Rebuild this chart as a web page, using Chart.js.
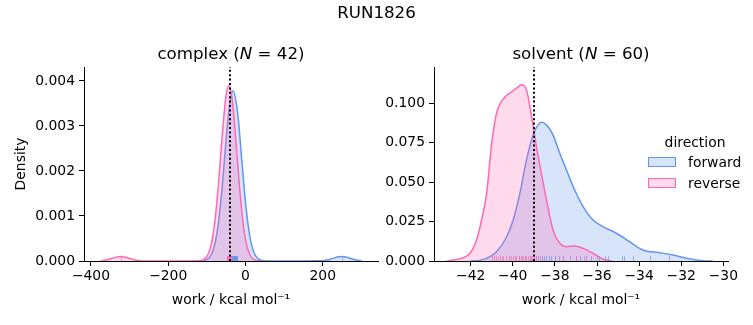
<!DOCTYPE html>
<html>
<head>
<meta charset="utf-8">
<title>RUN1826</title>
<script src="https://cdn.jsdelivr.net/npm/chart.js@4.4.1/dist/chart.umd.min.js"></script>
<style>
  body { margin: 0; background: #fff; font-family: 'DejaVu Sans', sans-serif; }
  #fig { position: relative; width: 753px; height: 325px; overflow: hidden; background: #fff; }
  #fig canvas { position: absolute; top: 0; }
  .txt { position: absolute; white-space: nowrap; color: #000; text-align: center; }
  .title { font-size: 16.67px; line-height: 20px; }
  .legend-title { font-size: 13.9px; line-height: 16px; }
  .legend-item { position: absolute; font-size: 13.9px; line-height: 16px; white-space: nowrap; }
  .patch { position: absolute; width: 26px; height: 8px; }
</style>
</head>
<body>
<div id="fig">
  <canvas id="complexChart" width="390" height="325" style="left:0"></canvas>
  <canvas id="solventChart" width="377" height="325" style="left:376px"></canvas>

  <div class="txt title" style="left:0; width:753px; top:3px;">RUN1826</div>
  <div class="txt title" style="left:84px; width:294px; top:44px;">complex (<i>N</i> = 42)</div>
  <div class="txt title" style="left:434px; width:294px; top:44px;">solvent (<i>N</i> = 60)</div>

  <!-- legend -->
  <div class="txt legend-title" style="left:645px; width:100px; top:134px;">direction</div>
  <div class="patch" style="left:648px; top:157px; background:rgba(100,149,237,0.25); border:1.5px solid #6495ED;"></div>
  <div class="legend-item" style="left:688px; top:154px;">forward</div>
  <div class="patch" style="left:648px; top:178px; background:rgba(255,105,180,0.25); border:1.5px solid #FF69B4;"></div>
  <div class="legend-item" style="left:688px; top:175px;">reverse</div>
</div>

<script>
// ── Density curves, complex leg ─────────────────
const complexFwdX = [-130, -120, -110, -100, -90, -80, -70, -60, -50, -40, -32, -20, -10, 0, 10, 20, 30, 40, 55, 80, 120, 160, 185, 200, 215, 230, 240, 249, 260, 275, 290, 300];
const complexFwdY = [0.0000005, 0.000002, 0.000008, 0.000032, 0.000117, 0.00035, 0.00085, 0.00168, 0.00271, 0.00354, 0.00378, 0.00326, 0.00229, 0.00131, 0.00061, 0.00023, 0.00007, 0.000018, 0.000002, 0, 0, 0.0000003, 0.000003, 0.000008, 0.00003, 0.000069, 0.000092, 0.0001, 0.000088, 0.00005, 0.000018, 0.000007];

const complexRevX = [-375, -360, -345, -335, -323, -310, -300, -285, -270, -250, -200, -150, -120, -110, -100, -90, -80, -70, -60, -50, -43, -35, -25, -15, -5, 5, 15, 25, 40];
const complexRevY = [0.000006, 0.000024, 0.00006, 0.000086, 0.0001, 0.000084, 0.000058, 0.000022, 0.0000055, 0.0000004, 0, 0, 0.000005, 0.000024, 0.0001, 0.00032, 0.00083, 0.0017, 0.00281, 0.00369, 0.0039, 0.00363, 0.0027, 0.0016, 0.00076, 0.00029, 0.000086, 0.00002, 0.000002];

// ── Density curves, solvent leg ─────────────────
const solventFwdX = [-42.03, -41.6, -41.24, -40.77, -40.29, -39.98, -39.66, -39.35, -39.03, -38.8, -38.64, -38.4, -38.09, -37.77, -37.45, -37.06, -36.66, -36.19, -35.72, -35.08, -34.45, -33.82, -33.03, -32.4, -31.76, -30.98, -30.5];
const solventFwdY = [0, 0.0004, 0.0017, 0.0059, 0.0154, 0.026, 0.043, 0.064, 0.08, 0.0863, 0.088, 0.0863, 0.08, 0.0683, 0.0577, 0.045, 0.0345, 0.026, 0.0218, 0.0176, 0.0122, 0.007, 0.0053, 0.0038, 0.0017, 0.0002, 0];

const solventRevX = [-43.14, -42.82, -42.43, -42.03, -41.72, -41.48, -41.24, -41.0, -40.77, -40.37, -40.14, -39.82, -39.58, -39.35, -39.11, -38.87, -38.64, -38.4, -38.09, -37.77, -37.45, -37.06, -36.66, -36.19, -35.72, -35.3];
const solventRevY = [0, 0.0006, 0.0017, 0.0049, 0.0133, 0.026, 0.043, 0.0747, 0.0937, 0.104, 0.1064, 0.1096, 0.1117, 0.1085, 0.092, 0.072, 0.0556, 0.0387, 0.0197, 0.0112, 0.0091, 0.0095, 0.008, 0.0049, 0.0013, 0];

// ── Work samples (rug) ──────────────────────────
const complexFwdWork = [-39, -38, -37, -36, -35, -34, -33, -32, -31, -30, -30, -29, -28, -27, -27, -26, -25, -24, -23, -22, 249];
const complexRevWork = [-323, -49, -48, -47, -46, -46, -45, -44, -44, -43, -43, -42, -42, -41, -41, -40, -40, -39, -39, -38, -38];
const solventFwdWork = [-40.2, -39.7, -39.4, -39.2, -39.0, -38.9, -38.8, -38.7, -38.6, -38.5, -38.4, -38.3, -38.2, -38.0, -37.8, -37.6, -37.3, -37.0, -36.8, -36.5, -36.3, -36.0, -35.9, -35.6, -35.5, -34.8, -34.7, -34.3, -33.5, -32.6];
const solventRevWork = [-41.0, -40.9, -40.8, -40.7, -40.6, -40.5, -40.45, -40.3, -40.2, -40.1, -40.0, -39.9, -39.85, -39.7, -39.6, -39.55, -39.5, -39.4, -39.35, -39.3, -39.2, -39.15, -39.1, -39.0, -38.9, -38.8, -38.6, -37.6, -37.0, -36.6];

// free energy estimates (dotted lines)
const complexEstimate = -41;
const solventEstimate = -39.0;

// axis ranges and ticks
const complexXRange = [-418, 343];
const complexXTicks = [-400, -200, 0, 200];
const complexYMax = 0.00431;
const complexYTicks = [0, 0.001, 0.002, 0.003, 0.004];
const solventXRange = [-43.74, -29.78];
const solventXTicks = [-42, -40, -38, -36, -34, -32, -30];
const solventYMax = 0.123;
const solventYTicks = [0, 0.025, 0.05, 0.075, 0.1];

const FWD = '#6495ED';
const REV = '#FF69B4';
const FWD_FILL = 'rgba(100,149,237,0.25)';
const REV_FILL = 'rgba(255,105,180,0.25)';
const FWD_RUG = 'rgba(100,149,237,0.65)';
const REV_RUG = 'rgba(255,105,180,0.65)';
const FONT = 'DejaVu Sans';

const toPoints = (xs, ys) => xs.map((x, i) => ({ x: x, y: ys[i] }));
const minus = v => (v < 0 ? '\u2212' + Math.abs(v) : String(v));

// rug ticks along the bottom + dotted estimate line, drawn over the curves
const rugPlugin = {
  id: 'rug',
  afterDatasetsDraw(chart, args, opts) {
    const { ctx, chartArea, scales } = chart;
    const h = (chartArea.bottom - chartArea.top) * 0.025;
    ctx.save();
    ctx.lineWidth = 1;
    opts.sets.forEach(s => {
      ctx.strokeStyle = s.color;
      s.values.forEach(v => {
        const x = Math.round(scales.x.getPixelForValue(v)) + 0.5;
        ctx.beginPath();
        ctx.moveTo(x, chartArea.bottom);
        ctx.lineTo(x, chartArea.bottom - h);
        ctx.stroke();
      });
    });
    // estimate line
    const xe = Math.round(scales.x.getPixelForValue(opts.estimate));
    ctx.strokeStyle = '#000';
    ctx.lineWidth = 2;
    ctx.setLineDash([2, 2.4]);
    ctx.beginPath();
    ctx.moveTo(xe, chartArea.bottom);
    ctx.lineTo(xe, chartArea.top);
    ctx.stroke();
    ctx.restore();
  }
};

function makeChart(id, cfg) {
  const tickFont = { family: FONT, size: 13.9 };
  return new Chart(document.getElementById(id), {
    type: 'line',
    data: {
      datasets: [
        {
          label: 'forward', data: cfg.fwd, order: 2,
          borderColor: FWD, backgroundColor: FWD_FILL, borderWidth: 1.5,
          fill: 'origin', pointRadius: 0, cubicInterpolationMode: 'monotone'
        },
        {
          label: 'reverse', data: cfg.rev, order: 1,
          borderColor: REV, backgroundColor: REV_FILL, borderWidth: 1.5,
          fill: 'origin', pointRadius: 0, cubicInterpolationMode: 'monotone'
        }
      ]
    },
    options: {
      responsive: false,
      animation: false,
      devicePixelRatio: 1,
      layout: { padding: { top: 67, right: cfg.padRight, left: 0, bottom: 0 } },
      plugins: {
        legend: { display: false },
        tooltip: { enabled: false },
        rug: { sets: cfg.rugs, estimate: cfg.estimate }
      },
      scales: {
        x: {
          type: 'linear',
          min: cfg.xRange[0], max: cfg.xRange[1],
          grid: { display: true, drawOnChartArea: false, drawTicks: true, tickLength: 5, color: '#000', lineWidth: 1 },
          border: { display: true, color: '#000', width: 1 },
          ticks: {
            color: '#000', font: tickFont, padding: 2.5,
            maxRotation: 0, autoSkip: false,
            callback: v => minus(v)
          },
          afterBuildTicks: s => { s.ticks = cfg.xTicks.map(v => ({ value: v })); },
          title: {
            display: true, text: 'work / kcal mol\u207B\u00B9', color: '#000',
            font: { family: FONT, size: 13.9 }, padding: { top: 0, bottom: 16.5 }
          },
          afterFit: s => { s.height = 64; }
        },
        y: {
          min: 0, max: cfg.yMax,
          grid: { display: true, drawOnChartArea: false, drawTicks: true, tickLength: 5, color: '#000', lineWidth: 1 },
          border: { display: true, color: '#000', width: 1 },
          ticks: {
            color: '#000', font: tickFont, padding: 4, autoSkip: false,
            callback: v => v.toFixed(3)
          },
          afterBuildTicks: s => { s.ticks = cfg.yTicks.map(v => ({ value: v })); },
          title: {
            display: cfg.yTitle, text: 'Density', color: '#000',
            font: { family: FONT, size: 13.9 }, padding: { top: 12.7, bottom: 0 }
          },
          afterFit: s => { s.width = cfg.yWidth; }
        }
      }
    },
    plugins: [rugPlugin]
  });
}

makeChart('complexChart', {
  fwd: toPoints(complexFwdX, complexFwdY),
  rev: toPoints(complexRevX, complexRevY),
  rugs: [{ values: complexFwdWork, color: FWD_RUG }, { values: complexRevWork, color: REV_RUG }],
  estimate: complexEstimate,
  xRange: complexXRange, xTicks: complexXTicks,
  yMax: complexYMax, yTicks: complexYTicks,
  yTitle: true, yWidth: 84, padRight: 12
});

makeChart('solventChart', {
  fwd: toPoints(solventFwdX, solventFwdY),
  rev: toPoints(solventRevX, solventRevY),
  rugs: [{ values: solventFwdWork, color: FWD_RUG }, { values: solventRevWork, color: REV_RUG }],
  estimate: solventEstimate,
  xRange: solventXRange, xTicks: solventXTicks,
  yMax: solventYMax, yTicks: solventYTicks,
  yTitle: false, yWidth: 58, padRight: 25
});
</script>
</body>
</html>
